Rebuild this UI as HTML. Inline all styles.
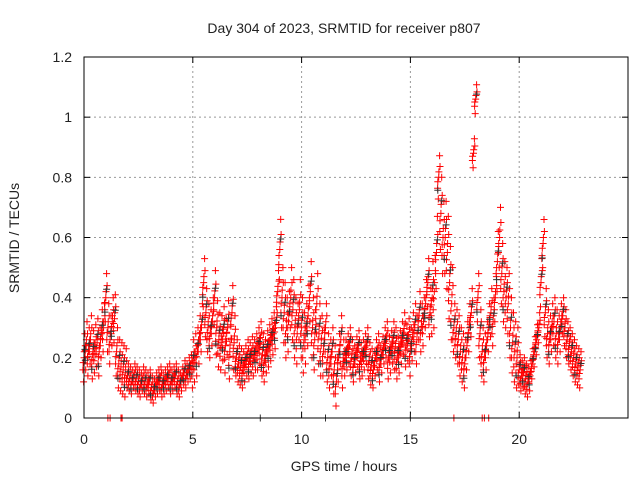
<!DOCTYPE html>
<html><head><meta charset="utf-8"><style>
html,body{margin:0;padding:0;background:#fff;}
svg text{font-family:"Liberation Sans",sans-serif;font-size:14px;fill:#222;}
</style></head><body>
<svg id="chart" width="640" height="480" viewBox="0 0 640 480" xmlns="http://www.w3.org/2000/svg">
<rect width="640" height="480" fill="#fff"/>
<text x="344" y="33" text-anchor="middle">Day 304 of 2023, SRMTID for receiver p807</text>
<text x="344" y="471" text-anchor="middle">GPS time / hours</text>
<text x="19" y="238" text-anchor="middle" transform="rotate(-90 19 238)">SRMTID / TECUs</text>
<g id="grid"></g>
<g id="axes"></g>
<path id="red" fill="none" stroke="#ff0000" stroke-width="1"/>
<path id="black" fill="none" stroke="#333" stroke-width="1"/>
<rect x="84" y="57" width="544" height="361" fill="none" stroke="#000" stroke-width="1"/>
</svg>
<script>
const xTicks=[0,5,10,15,20];
const yTicks=[0,0.2,0.4,0.6,0.8,1,1.2];
const yTickLabels=["0","0.2","0.4","0.6","0.8","1","1.2"];
const tStart=0, tStep=0.1;
const center=[.20,.24,.22,.26,.21,.23,.25,.22,.28,.30,
.40,.30,.26,.32,.33,.22,.18,.17,.16,.15,
.14,.13,.12,.14,.13,.12,.11,.13,.12,.11,
.12,.10,.09,.11,.12,.13,.11,.12,.13,.14,
.12,.13,.14,.12,.11,.13,.15,.14,.16,.17,
.18,.20,.22,.26,.30,.45,.35,.30,.28,.32,
.40,.30,.26,.25,.28,.24,.30,.22,.35,.25,
.20,.18,.17,.16,.18,.20,.19,.21,.20,.22,
.23,.25,.21,.19,.22,.24,.26,.28,.30,.42,
.56,.40,.35,.30,.32,.40,.36,.30,.28,.36,
.30,.25,.28,.34,.42,.30,.26,.38,.28,.24,
.22,.30,.20,.18,.22,.16,.12,.20,.26,.18,
.20,.22,.24,.20,.18,.21,.23,.19,.20,.22,
.24,.19,.17,.16,.20,.22,.18,.21,.24,.26,
.20,.22,.25,.23,.20,.22,.25,.28,.24,.26,
.22,.27,.30,.26,.34,.30,.32,.38,.45,.35,
.40,.42,.55,.80,.68,.60,.60,.55,.45,.38,
.30,.28,.26,.22,.20,.18,.24,.30,.35,.88,
1.06,.40,.28,.22,.20,.24,.30,.35,.32,.40,
.52,.60,.48,.42,.40,.38,.30,.25,.22,.20,
.16,.14,.15,.13,.12,.14,.18,.22,.26,.30,
.45,.58,.35,.28,.26,.30,.32,.28,.26,.30,
.34,.30,.26,.24,.22,.20,.18,.17,.16];
const hourSpread=[.08,.08,.04,.04,.04,.08,.09,.06,.07,.1,.1,.08,.06,.06,.07,.08,.12,.08,.08,.1,.05,.08,.06];
const zeroRed=[1.1,1.2,1.7,1.75,17.0,18.3,18.4,18.6];
const zeroBlack=[8.1,11.1,15.0];

const X0=84,X1=628,Y0=418,Y1=57,XMAX=25,YMAX=1.2;
const xs=t=>X0+(X1-X0)*t/XMAX;
const ys=v=>Y0-(Y0-Y1)*v/YMAX;
const NS="http://www.w3.org/2000/svg";
const grid=document.getElementById('grid'),axes=document.getElementById('axes');
function mk(tag,attrs,parent){const e=document.createElementNS(NS,tag);for(const k in attrs)e.setAttribute(k,attrs[k]);parent.appendChild(e);return e;}
yTicks.forEach((v,i)=>{
  const y=ys(v);
  if(i>0&&i<yTicks.length-1){const g=mk('line',{x1:X0,x2:X1,y1:y,y2:y,stroke:'#999','stroke-dasharray':'2,3'},grid);
  
  }
  mk('line',{x1:X0,x2:X0+6,y1:y,y2:y,stroke:'#000'},axes);
  mk('line',{x1:X1,x2:X1-6,y1:y,y2:y,stroke:'#000'},axes);
  const t=mk('text',{x:X0-12,y:y+5,'text-anchor':'end'},axes);t.textContent=yTickLabels[i];
  
  
});
xTicks.forEach(v=>{
  const x=xs(v);
  if(v>0){const g=mk('line',{x1:x,x2:x,y1:Y0,y2:Y1,stroke:'#999','stroke-dasharray':'2,3'},grid);
  
  }
  mk('line',{x1:x,x2:x,y1:Y0,y2:Y0-6,stroke:'#000'},axes);
  mk('line',{x1:x,x2:x,y1:Y1,y2:Y1+6,stroke:'#000'},axes);
  const t=mk('text',{x:x,y:Y0+26,'text-anchor':'middle'},axes);t.textContent=String(v);
  
  
});
function plus(t,v){const x=xs(t),y=ys(Math.max(0,v));return `M${(x-3.5).toFixed(1)} ${y.toFixed(1)}h7M${x.toFixed(1)} ${(y-3.5).toFixed(1)}v7`;}
let dr='',db='';
const offs=[[0,0],[0.04,1],[-0.02,-1],[0.06,0.5],[-0.05,-0.5],[0.01,0.25],[-0.04,-0.2]];
center.forEach((c,i)=>{
  const t=tStart+i*tStep;const s=hourSpread[Math.min(hourSpread.length-1,Math.floor(t))];
  const ss=c>0.7?s*0.6:s;
  offs.forEach(o=>{dr+=plus(t+o[0],Math.max(0.03,c+ss*o[1]));});
  if(i%2===0)db+=plus(t+0.04,Math.max(0.03,c+ss*0.35));
  if(i%3===1)db+=plus(t-0.04,Math.max(0.03,c-ss*0.6));
});
zeroRed.forEach(t=>dr+=plus(t,0));
zeroBlack.forEach(t=>db+=plus(t,0));
document.getElementById('red').setAttribute('d',dr);
document.getElementById('black').setAttribute('d',db);
</script>
</body></html>
